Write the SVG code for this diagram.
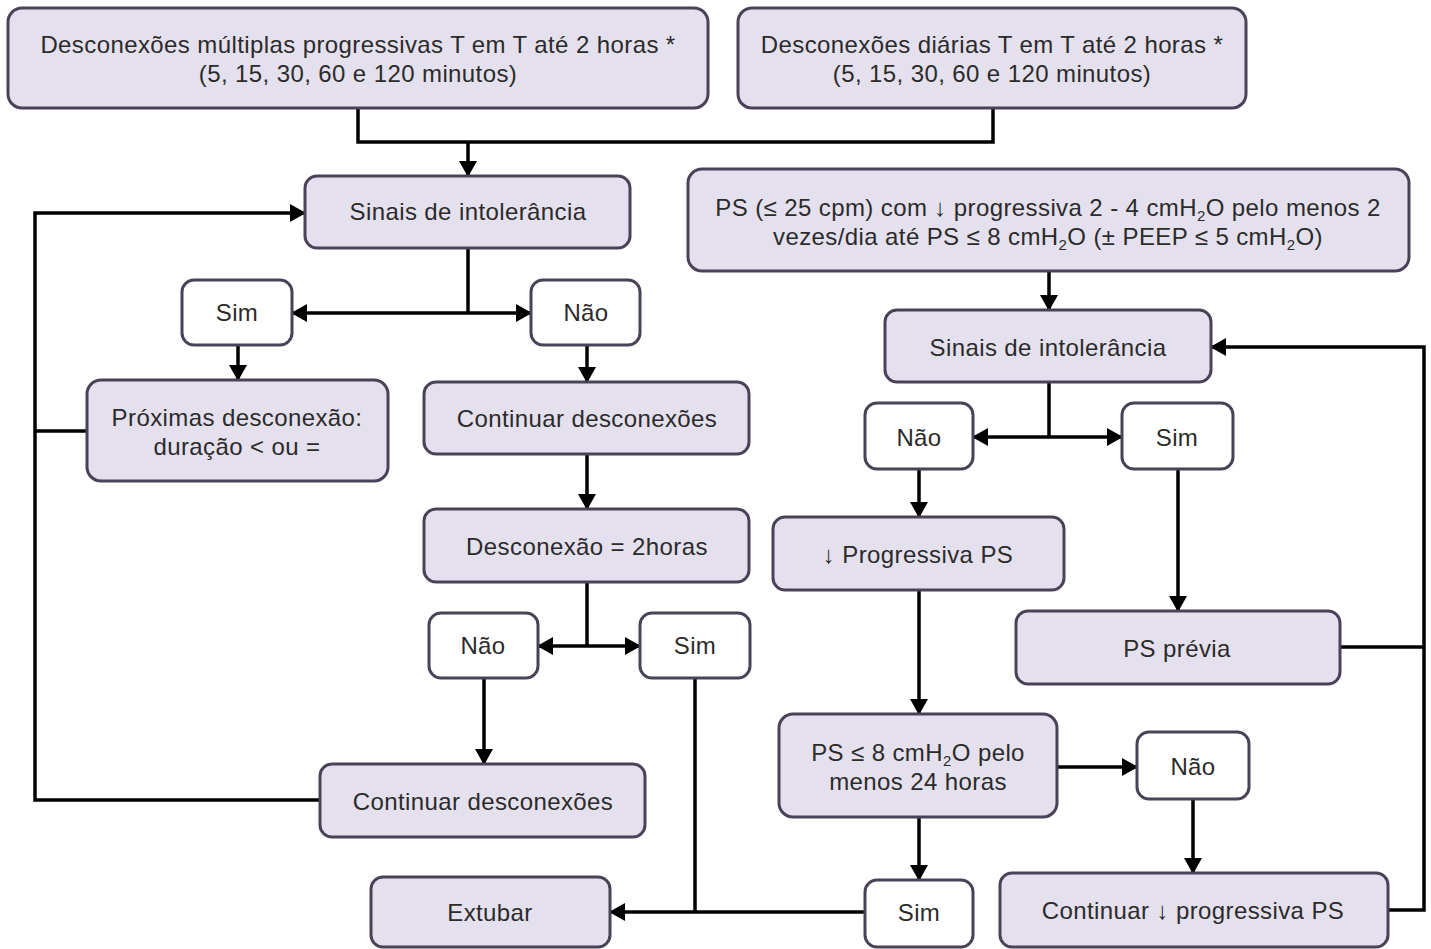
<svg xmlns="http://www.w3.org/2000/svg" width="1431" height="949" viewBox="0 0 1431 949">
<style>
.box{fill:#e5e0ed;stroke:#4a4257;stroke-width:3}
.sm{fill:#ffffff;stroke:#4a4257;stroke-width:3}
.t{font-family:"Liberation Sans",Arial,sans-serif;font-size:24px;letter-spacing:0.4px;fill:#2b2b2b;text-anchor:middle}
.c{fill:none;stroke:#000;stroke-width:3.5}
.a{fill:none;stroke:#000;stroke-width:3.5;marker-end:url(#ah)}
</style>
<defs>
<marker id="ah" markerUnits="userSpaceOnUse" markerWidth="16" markerHeight="18" refX="15" refY="9" orient="auto">
<path d="M0,0 L16,9 L0,18 Z" fill="#000"/>
</marker>
</defs>
<rect width="1431" height="949" fill="#fff"/>
<g id="connectors">
<polyline class="c" points="358,108 358,142 993,142 993,108"/>
<line class="a" x1="468" y1="142" x2="468" y2="176"/>
<line class="c" x1="468" y1="248" x2="468" y2="313"/>
<line class="a" x1="468" y1="313" x2="292" y2="313"/>
<line class="a" x1="468" y1="313" x2="531" y2="313"/>
<line class="a" x1="238" y1="345" x2="238" y2="380"/>
<line class="a" x1="587" y1="345" x2="587" y2="382"/>
<line class="a" x1="587" y1="454" x2="587" y2="509"/>
<line class="c" x1="587" y1="582" x2="587" y2="646"/>
<line class="a" x1="587" y1="646" x2="538" y2="646"/>
<line class="a" x1="587" y1="646" x2="640" y2="646"/>
<line class="a" x1="484" y1="678" x2="484" y2="764"/>
<polyline class="a" points="320,800 35,800 35,213 305,213"/>
<line class="c" x1="87" y1="431" x2="35" y2="431"/>
<line class="c" x1="695" y1="678" x2="695" y2="912"/>
<line class="a" x1="865" y1="912" x2="610" y2="912"/>
<line class="a" x1="1049" y1="271" x2="1049" y2="310"/>
<line class="c" x1="1049" y1="382" x2="1049" y2="437"/>
<line class="a" x1="1049" y1="437" x2="973" y2="437"/>
<line class="a" x1="1049" y1="437" x2="1122" y2="437"/>
<line class="a" x1="919" y1="469" x2="919" y2="517"/>
<line class="a" x1="1178" y1="469" x2="1178" y2="611"/>
<line class="a" x1="919" y1="590" x2="919" y2="714"/>
<line class="a" x1="1057" y1="767" x2="1137" y2="767"/>
<line class="a" x1="1193" y1="799" x2="1193" y2="873"/>
<line class="a" x1="919" y1="817" x2="919" y2="880"/>
<polyline class="a" points="1388,910 1424,910 1424,347 1211,347"/>
<line class="c" x1="1340" y1="647" x2="1424" y2="647"/>
</g>
<g id="n-desc-multiplas">
<rect class="box" x="8" y="8" width="700" height="100" rx="14"/>
<text class="t" x="358" y="53">Desconexões múltiplas progressivas T em T até 2 horas *</text>
<text class="t" x="358" y="82">(5, 15, 30, 60 e 120 minutos)</text>
</g>
<g id="n-desc-diarias">
<rect class="box" x="738" y="8" width="508" height="100" rx="14"/>
<text class="t" x="992" y="53">Desconexões diárias T em T até 2 horas *</text>
<text class="t" x="992" y="82">(5, 15, 30, 60 e 120 minutos)</text>
</g>
<g id="n-sinais-l">
<rect class="box" x="305" y="176" width="325" height="72" rx="12"/>
<text class="t" x="468" y="220">Sinais de intolerância</text>
</g>
<g id="n-sim-l">
<rect class="sm" x="182" y="280" width="110" height="65" rx="12"/>
<text class="t" x="237" y="321">Sim</text>
</g>
<g id="n-nao-l">
<rect class="sm" x="531" y="280" width="109" height="65" rx="12"/>
<text class="t" x="586" y="321">Não</text>
</g>
<g id="n-proximas">
<rect class="box" x="87" y="380" width="301" height="101" rx="14"/>
<text class="t" x="237" y="426">Próximas desconexão:</text>
<text class="t" x="237" y="455">duração &lt; ou =</text>
</g>
<g id="n-continuar1">
<rect class="box" x="424" y="382" width="325" height="72" rx="12"/>
<text class="t" x="587" y="427">Continuar desconexões</text>
</g>
<g id="n-desc2h">
<rect class="box" x="424" y="509" width="325" height="73" rx="12"/>
<text class="t" x="587" y="555">Desconexão = 2horas</text>
</g>
<g id="n-nao2">
<rect class="sm" x="429" y="613" width="109" height="65" rx="12"/>
<text class="t" x="483" y="654">Não</text>
</g>
<g id="n-sim2">
<rect class="sm" x="640" y="613" width="110" height="65" rx="12"/>
<text class="t" x="695" y="654">Sim</text>
</g>
<g id="n-continuar2">
<rect class="box" x="320" y="764" width="325" height="73" rx="12"/>
<text class="t" x="483" y="810">Continuar desconexões</text>
</g>
<g id="n-extubar">
<rect class="box" x="371" y="877" width="239" height="70" rx="12"/>
<text class="t" x="490" y="921">Extubar</text>
</g>
<g id="n-ps">
<rect class="box" x="688" y="169" width="721" height="102" rx="14"/>
<text class="t" x="1048" y="216">PS (≤ 25 cpm) com ↓ progressiva 2 - 4 cmH<tspan dy="5" font-size="15">2</tspan><tspan dy="-5">O pelo menos 2</tspan></text>
<text class="t" x="1048" y="245">vezes/dia até PS ≤ 8 cmH<tspan dy="5" font-size="15">2</tspan><tspan dy="-5">O (± PEEP ≤ 5 cmH</tspan><tspan dy="5" font-size="15">2</tspan><tspan dy="-5">O)</tspan></text>
</g>
<g id="n-sinais-r">
<rect class="box" x="885" y="310" width="326" height="72" rx="12"/>
<text class="t" x="1048" y="356">Sinais de intolerância</text>
</g>
<g id="n-nao-r">
<rect class="sm" x="865" y="403" width="108" height="66" rx="12"/>
<text class="t" x="919" y="446">Não</text>
</g>
<g id="n-sim-r">
<rect class="sm" x="1122" y="403" width="111" height="66" rx="12"/>
<text class="t" x="1177" y="446">Sim</text>
</g>
<g id="n-progressiva">
<rect class="box" x="773" y="517" width="291" height="73" rx="12"/>
<text class="t" x="918" y="563">↓ Progressiva PS</text>
</g>
<g id="n-ps-previa">
<rect class="box" x="1016" y="611" width="324" height="73" rx="12"/>
<text class="t" x="1177" y="657">PS prévia</text>
</g>
<g id="n-ps8">
<rect class="box" x="779" y="714" width="278" height="103" rx="14"/>
<text class="t" x="918" y="761">PS ≤ 8 cmH<tspan dy="5" font-size="15">2</tspan><tspan dy="-5">O pelo</tspan></text>
<text class="t" x="918" y="790">menos 24 horas</text>
</g>
<g id="n-nao3">
<rect class="sm" x="1137" y="732" width="112" height="67" rx="12"/>
<text class="t" x="1193" y="775">Não</text>
</g>
<g id="n-sim3">
<rect class="sm" x="865" y="880" width="108" height="67" rx="12"/>
<text class="t" x="919" y="921">Sim</text>
</g>
<g id="n-continuar-prog">
<rect class="box" x="1000" y="873" width="388" height="74" rx="12"/>
<text class="t" x="1193" y="919">Continuar ↓ progressiva PS</text>
</g>
</svg>
